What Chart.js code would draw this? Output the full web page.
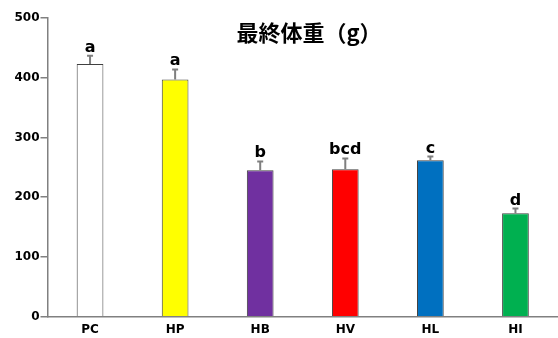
<!DOCTYPE html>
<html>
<head>
<meta charset="utf-8">
<script src="https://cdn.jsdelivr.net/npm/chart.js@4"></script>
<style>
  html, body { margin: 0; padding: 0; background: #fff; }
  #wrap { width: 558px; height: 338px; }
</style>
</head>
<body>
<div id="wrap"><canvas id="weight-chart"></canvas></div>
<script>
// 最終体重 data
const groups = ["PC", "HP", "HB", "HV", "HL", "HI"];
const weights = [423, 397, 245, 247, 262, 173];
const errors = [14, 17, 15, 18, 6, 8];
const letters = ["a", "a", "b", "bcd", "c", "d"];
const yTicks = [0, 100, 200, 300, 400, 500];
const fills = ["#ffffff", "#ffff00", "#7030a0", "#ff0000", "#0070c0", "#00b050"];

const chartTitle = "最終体重（g）";

// error bars + significance letters + title
const extrasPlugin = {
  id: "extras",
  afterDatasetsDraw(chart) {
    const ctx = chart.ctx;
    const meta = chart.getDatasetMeta(0);
    const y = chart.scales.y;
    ctx.save();
    meta.data.forEach((bar, i) => {
      const top = y.getPixelForValue(weights[i]);
      const errTop = y.getPixelForValue(weights[i] + errors[i]);
      ctx.strokeStyle = "#7f7f7f";
      ctx.lineWidth = 2;
      ctx.beginPath();
      ctx.moveTo(bar.x, top);
      ctx.lineTo(bar.x, errTop);
      ctx.moveTo(bar.x - 3, errTop);
      ctx.lineTo(bar.x + 3, errTop);
      ctx.stroke();

      ctx.fillStyle = "#000";
      ctx.font = "bold 16px 'DejaVu Sans'";
      ctx.textAlign = "center";
      ctx.textBaseline = "alphabetic";
      ctx.fillText(letters[i], bar.x, errTop - 4);
    });
    ctx.font = "bold 22px 'Noto Sans CJK JP'";
    ctx.textAlign = "center";
    ctx.textBaseline = "middle";
    ctx.fillStyle = "#000";
    ctx.fillText(chartTitle, 309, 33);
    ctx.restore();
  }
};

const ctx = document.getElementById("weight-chart").getContext("2d");
new Chart(ctx, {
  type: "bar",
  data: {
    labels: groups,
    datasets: [{
      data: weights,
      backgroundColor: fills,
      borderColor: "#404040",
      borderWidth: 1,
      barPercentage: 0.314,
      categoryPercentage: 1
    }]
  },
  options: {
    responsive: true,
    maintainAspectRatio: false,
    animation: false,
    layout: { padding: { top: 18, right: 0, bottom: 0, left: 0 } },
    plugins: {
      legend: { display: false },
      tooltip: { enabled: false },
      title: { display: false }
    },
    scales: {
      x: {
        grid: { display: false, drawTicks: false },
        border: { display: true, color: "#808080", width: 1.5 },
        ticks: {
          color: "#000",
          padding: 6,
          font: { family: "DejaVu Sans", size: 12, weight: "bold" }
        },
        afterFit(scale) { scale.height = 21.3; }
      },
      y: {
        min: 0,
        max: 500,
        afterBuildTicks(scale) { scale.ticks = yTicks.map(v => ({ value: v })); },
        grid: { drawOnChartArea: false, drawTicks: true, tickLength: 7, color: "#808080", lineWidth: 1.5 },
        border: { display: true, color: "#808080", width: 1.5 },
        ticks: {
          color: "#000",
          padding: 1,
          font: { family: "DejaVu Sans", size: 12, weight: "bold" }
        },
        afterFit(scale) { scale.width = 47.5; }
      }
    }
  },
  plugins: [extrasPlugin]
});
</script>
</body>
</html>
